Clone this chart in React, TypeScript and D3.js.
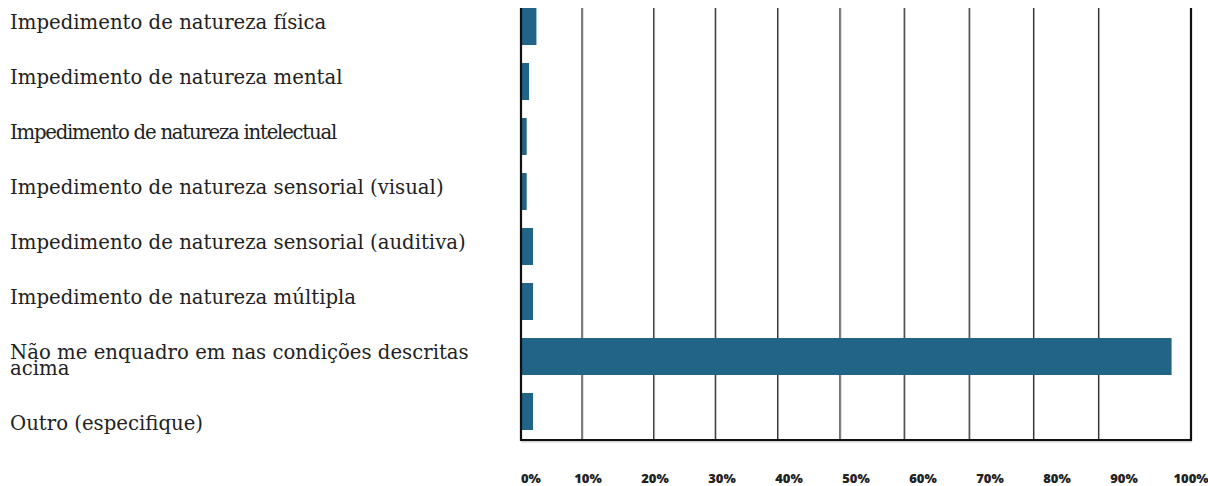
import React from "react";
import * as d3 from "d3";

const categories: string[] = [
  "Impedimento de natureza física",
  "Impedimento de natureza mental",
  "Impedimento de natureza intelectual",
  "Impedimento de natureza sensorial (visual)",
  "Impedimento de natureza sensorial (auditiva)",
  "Impedimento de natureza múltipla",
  "Não me enquadro em nas condições descritas|acima",
  "Outro (especifique)",
];

const percentages: number[] = [2.3, 1.2, 0.85, 0.85, 1.8, 1.8, 97.1, 1.8];

const tickValues: number[] = [0, 10, 20, 30, 40, 50, 60, 70, 80, 90, 100];
const tickLabels: string[] = ["0%", "10%", "20%", "30%", "40%", "50%", "60%", "70%", "80%", "90%", "100%"];

// vertical gridline positions (percent units)
const gridValues: number[] = [9.1, 19.8, 29.0, 38.3, 47.6, 57.2, 66.9, 76.5, 86.2];

const W = 1208;
const H = 486;
const plotLeft = 521;
const plotRight = 1191;
const plotTop = 8;
const plotBottom = 440;
const lineGap = 16;

export default function App() {
  const x = d3.scaleLinear().domain([0, 100]).range([plotLeft, plotRight]);
  const y = d3
    .scaleBand<string>()
    .domain(categories)
    .range([plotTop, 430])
    .paddingInner(18 / 55)
    .paddingOuter(0);

  const barColor = "#216487";
  const labelFont = "'DejaVu Serif', serif";

  // labels flow like text: extra wrapped lines push following labels down
  let extraLines = 0;
  const labelLayout = categories.map((c) => {
    const lines = c.split("|");
    const shift = extraLines * lineGap;
    extraLines += lines.length - 1;
    return { c, lines, shift };
  });

  return (
    <svg
      width={W}
      height={H}
      style={{ position: "absolute", left: 0, top: 0, background: "#fff" }}
    >
      {/* gridlines */}
      {gridValues.map((g, i) => (
        <g key={"g" + i}>
          <line x1={x(g) + 1} x2={x(g) + 1} y1={plotTop} y2={plotBottom} stroke="#bbb" strokeWidth={1} />
          <line x1={x(g)} x2={x(g)} y1={plotTop} y2={plotBottom} stroke="#333" strokeWidth={1.2} />
        </g>
      ))}

      {/* bars */}
      {categories.map((c, i) => (
        <rect
          key={"b" + i}
          x={x(0)}
          y={y(c)!}
          width={x(percentages[i]) - x(0)}
          height={y.bandwidth()}
          fill={barColor}
        />
      ))}

      {/* axes frame */}
      <line x1={plotLeft} x2={plotLeft} y1={plotTop} y2={plotBottom + 1} stroke="#111" strokeWidth={2.2} />
      <line x1={plotRight} x2={plotRight} y1={plotTop} y2={plotBottom + 1} stroke="#111" strokeWidth={2.2} />
      <line x1={plotLeft - 1} x2={plotRight + 1} y1={plotBottom} y2={plotBottom} stroke="#111" strokeWidth={2.2} />
      <line x1={plotLeft} x2={plotRight + 1} y1={plotBottom + 1.8} y2={plotBottom + 1.8} stroke="#aaa" strokeWidth={0.8} />

      {/* tick labels */}
      {tickValues.map((v, i) => (
        <text
          key={"t" + i}
          x={x(v)}
          y={483}
          textAnchor={v === 0 ? "start" : "middle"}
          fontFamily="'Open Sans', sans-serif"
          fontWeight={800}
          fontSize={13}
          fill="#222"
        >
          {tickLabels[i]}
        </text>
      ))}

      {/* category labels */}
      {labelLayout.map(({ c, lines, shift }, i) => {
        const cy = y(c)! + y.bandwidth() / 2;
        return (
          <text
            key={"l" + i}
            x={10}
            y={cy + 2 + shift}
            fontFamily={labelFont}
            fontSize={19.7}
            fill="#222"
            letterSpacing={i === 2 ? -1.25 : 0}
          >
            {lines.map((ln, j) => (
              <tspan key={j} x={10} dy={j === 0 ? 0 : lineGap}>
                {ln}
              </tspan>
            ))}
          </text>
        );
      })}
    </svg>
  );
}
